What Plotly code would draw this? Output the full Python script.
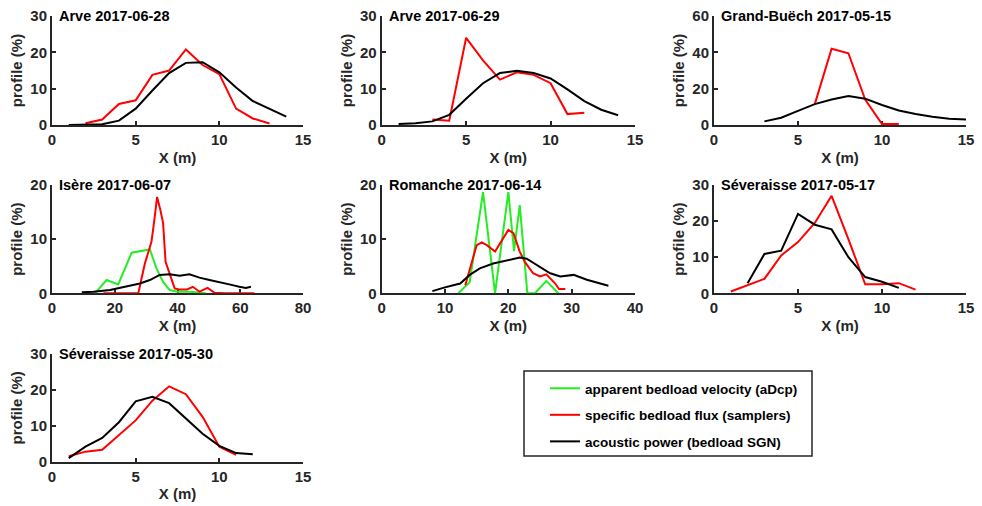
import plotly.graph_objects as go

# ---------------- data ----------------
TITLES = ["Arve 2017-06-28", "Arve 2017-06-29", "Grand-Buëch 2017-05-15",
          "Isère 2017-06-07", "Romanche 2017-06-14", "Séveraisse 2017-05-17",
          "Séveraisse 2017-05-30"]
SERIES_NAMES = ["apparent bedload velocity (aDcp)",
                "specific bedload flux (samplers)",
                "acoustic power (bedload SGN)"]

# Arve 2017-06-28
arve28_red_x = [2, 3, 4, 5, 6, 7, 8, 9, 10, 11, 12, 13]
arve28_red_y = [0.5, 1.5, 5.8, 6.8, 13.8, 15.0, 20.8, 16.5, 14.0, 4.5, 1.8, 0.4]
arve28_blk_x = [1, 2, 3, 4, 5, 6, 7, 8, 9, 10, 11, 12, 13, 14]
arve28_blk_y = [0.0, 0.0, 0.2, 1.2, 4.5, 9.5, 14.3, 17.1, 17.3, 14.5, 10.3, 6.6, 4.5, 2.3]

# Arve 2017-06-29
arve29_red_x = [3, 4, 5, 6, 7, 8, 9, 10, 11, 12]
arve29_red_y = [1.5, 1.2, 24.0, 17.8, 12.5, 14.5, 13.8, 11.5, 3.0, 3.4]
arve29_blk_x = [1, 2, 3, 4, 5, 6, 7, 8, 9, 10, 11, 12, 13, 14]
arve29_blk_y = [0.3, 0.5, 1.0, 2.8, 7.2, 11.5, 14.3, 14.9, 14.3, 12.8, 9.8, 6.6, 4.2, 2.7]

# Grand-Buëch 2017-05-15
gb_red_x = [6, 7, 8, 9, 10, 11]
gb_red_y = [11.5, 42.0, 39.5, 14.0, 0.5, 0.5]
gb_blk_x = [3, 4, 5, 6, 7, 8, 9, 10, 11, 12, 13, 14, 15]
gb_blk_y = [2.0, 4.0, 7.8, 11.5, 14.0, 16.0, 14.5, 11.0, 8.0, 6.0, 4.5, 3.5, 3.0]

# Isère 2017-06-07
isere_grn_x = [13.7, 17.4, 21.1, 25.4, 31.2, 33.3, 35.4, 37.5, 40, 44, 49]
isere_grn_y = [0.0, 2.45, 1.65, 7.5, 8.1, 4.6, 2.1, 0.6, 0.3, 0.3, 0.0]
isere_red_x = [16.4, 20, 24, 27.5, 29.6, 30.6, 31.7, 32.5, 33.5, 34.5, 35.4, 36.2,
               37.5, 39.1, 40.5, 43, 44.9, 47, 49.6, 51.8, 55, 60, 64.5]
isere_red_y = [0.0, 0.0, 0.0, 0.0, 5.5, 7.5, 9.5, 13.0, 17.8, 15.5, 13.0, 5.8,
               3.4, 0.9, 0.7, 0.7, 1.2, 0.3, 1.0, 0.1, 0.0, 0.0, 0.0]
isere_blk_x = [9.5, 13.2, 18.5, 23.8, 28, 31.2, 34.3, 37.5, 40.7, 43.8, 47, 50.2,
               53.4, 56.5, 59.7, 61.8, 63.4]
isere_blk_y = [0.2, 0.3, 0.6, 1.2, 1.8, 2.45, 3.4, 3.5, 3.25, 3.5, 2.9, 2.45,
               2.1, 1.65, 1.2, 1.0, 1.2]

# Romanche 2017-06-14
rom_grn_x = [12.1, 13.9, 16.0, 17.9, 20.0, 20.9, 21.8, 23.0, 24.2, 26.0, 27.9]
rom_grn_y = [0.0, 2.1, 18.7, 0.0, 18.7, 7.8, 16.3, 0.0, 0.0, 2.3, 0.0]
rom_red_x = [13.2, 14.2, 15.0, 15.8, 16.6, 17.9, 18.9, 20.0, 20.8, 21.8, 22.6,
             23.9, 25.0, 26.0, 27.4, 28.0, 29.0]
rom_red_y = [1.5, 5.8, 8.9, 9.4, 8.9, 7.7, 9.5, 11.7, 11.1, 7.7, 5.8,
             3.7, 3.1, 3.5, 1.8, 0.8, 0.8]
rom_blk_x = [8.0, 9.2, 9.7, 11.3, 12.4, 13.9, 15.5, 17.6, 19.7, 21.8, 22.9,
             24.5, 26.6, 28.2, 30.3, 32.4, 35.8]
rom_blk_y = [0.4, 0.9, 1.0, 1.5, 1.8, 3.4, 4.6, 5.5, 6.1, 6.6, 6.4,
             5.2, 3.7, 3.1, 3.4, 2.5, 1.4]

# Séveraisse 2017-05-17
sev17_red_x = [1, 2, 3, 4, 5, 6, 7, 8, 9, 10, 11, 12]
sev17_red_y = [0.5, 2.2, 4.0, 10.5, 14.2, 19.5, 27.0, 15.0, 2.5, 2.5, 2.8, 1.0]
sev17_blk_x = [2, 3, 4, 5, 6, 7, 8, 9, 10, 11]
sev17_blk_y = [2.8, 10.9, 11.8, 22.0, 19.0, 17.7, 10.0, 4.5, 3.2, 1.5]

# Séveraisse 2017-05-30
sev30_red_x = [1, 2, 3, 4, 5, 6, 7, 8, 9, 10, 11]
sev30_red_y = [1.5, 2.8, 3.3, 7.5, 11.5, 17.0, 21.0, 18.8, 12.5, 4.2, 1.9]
sev30_blk_x = [1, 2, 3, 4, 5, 6, 7, 8, 9, 10, 11, 12]
sev30_blk_y = [1.0, 4.2, 6.6, 11.0, 16.8, 18.1, 16.3, 12.0, 7.8, 4.4, 2.4, 2.1]

X_RANGES = [[0, 15], [0, 15], [0, 15], [0, 80], [0, 40], [0, 15], [0, 15]]
X_DTICK = [5, 5, 5, 20, 10, 5, 5]
Y_RANGES = [[0, 30], [0, 30], [0, 60], [0, 20], [0, 20], [0, 30], [0, 30]]
Y_DTICK = [10, 10, 20, 10, 10, 10, 10]

panels = [
    (None, (arve28_red_x, arve28_red_y), (arve28_blk_x, arve28_blk_y)),
    (None, (arve29_red_x, arve29_red_y), (arve29_blk_x, arve29_blk_y)),
    (None, (gb_red_x, gb_red_y), (gb_blk_x, gb_blk_y)),
    ((isere_grn_x, isere_grn_y), (isere_red_x, isere_red_y), (isere_blk_x, isere_blk_y)),
    ((rom_grn_x, rom_grn_y), (rom_red_x, rom_red_y), (rom_blk_x, rom_blk_y)),
    (None, (sev17_red_x, sev17_red_y), (sev17_blk_x, sev17_blk_y)),
    (None, (sev30_red_x, sev30_red_y), (sev30_blk_x, sev30_blk_y)),
]

# ---------------- layout geometry (pixels) ----------------
W, H = 982, 506
COLS_PX = [(52, 303), (381.7, 635), (714, 966)]
ROWS_PX = [(16, 125), (185, 293.3), (354, 461.7)]
POS = [(0, 0), (0, 1), (0, 2), (1, 0), (1, 1), (1, 2), (2, 0)]

COLORS = ["#22ee22", "#ff0000", "#000000"]
AX = "#262626"
FONT = "Liberation Sans, Arial, Helvetica, sans-serif"

fig = go.Figure()
shown = [False, False, False]
for i, series in enumerate(panels):
    xa = "x" if i == 0 else f"x{i+1}"
    ya = "y" if i == 0 else f"y{i+1}"
    for k, s in enumerate(series):
        if s is None:
            continue
        fig.add_trace(go.Scatter(
            x=s[0], y=s[1], mode="lines", xaxis=xa, yaxis=ya,
            line=dict(color=COLORS[k], width=2),
            name=SERIES_NAMES[k], legendgroup=f"g{k}", legendrank=k + 1,
            showlegend=not shown[k],
        ))
        shown[k] = True

layout = dict(
    width=W, height=H, margin=dict(l=0, r=0, t=0, b=0, pad=0, autoexpand=False),
    paper_bgcolor="white", plot_bgcolor="white",
    font=dict(family=FONT, color=AX),
    annotations=[], shapes=[],
)
for i, (r, c) in enumerate(POS):
    x0, x1 = COLS_PX[c]
    y0, y1 = ROWS_PX[r]
    xk = "xaxis" if i == 0 else f"xaxis{i+1}"
    yk = "yaxis" if i == 0 else f"yaxis{i+1}"
    ya_id = "y" if i == 0 else f"y{i+1}"
    xa_id = "x" if i == 0 else f"x{i+1}"
    common = dict(showline=True, linecolor=AX, linewidth=2, showgrid=False,
                  zeroline=False, ticks="inside", ticklen=4, tickwidth=1.5,
                  tickcolor=AX, layer="below traces", automargin=False,
                  tickfont=dict(family=FONT, size=15, color=AX, weight="bold"))
    layout[xk] = dict(common, domain=[x0 / W, x1 / W], anchor=ya_id,
                      range=X_RANGES[i], dtick=X_DTICK[i], tick0=0,
                      title=dict(text="X (m)", standoff=5,
                                 font=dict(family=FONT, size=15, color=AX, weight="bold")))
    layout[yk] = dict(common, domain=[1 - y1 / H, 1 - y0 / H], anchor=xa_id,
                      range=Y_RANGES[i], dtick=Y_DTICK[i], tick0=0,
                      title=dict(text="profile (%)", standoff=4,
                                 font=dict(family=FONT, size=15, color=AX, weight="bold")))
    layout["annotations"].append(dict(
        text=TITLES[i], xref=f"{xa_id} domain", yref=f"{ya_id} domain",
        x=0, y=1, xanchor="left", yanchor="middle", xshift=5, showarrow=False,
        font=dict(family=FONT, size=14.5, color="#000000", weight="bold")))

# legend box
layout["shapes"].append(dict(type="rect", xref="paper", yref="paper",
                             x0=524 / W, x1=812 / W, y0=1 - 456 / H, y1=1 - 371 / H,
                             line=dict(color=AX, width=1.5), fillcolor="white",
                             layer="below"))
layout["legend"] = dict(x=545 / W, y=1 - 373 / H, xanchor="left", yanchor="top",
                        bgcolor="rgba(0,0,0,0)", borderwidth=0, tracegroupgap=6,
                        itemwidth=30,
                        font=dict(family=FONT, size=13.5, color="#000000", weight="bold"))
layout["showlegend"] = True
fig.update_layout(**layout)
fig.write_html("out.html", config={"displayModeBar": False},
               post_script="document.body.style.margin='0px';document.body.style.overflow='hidden';")
